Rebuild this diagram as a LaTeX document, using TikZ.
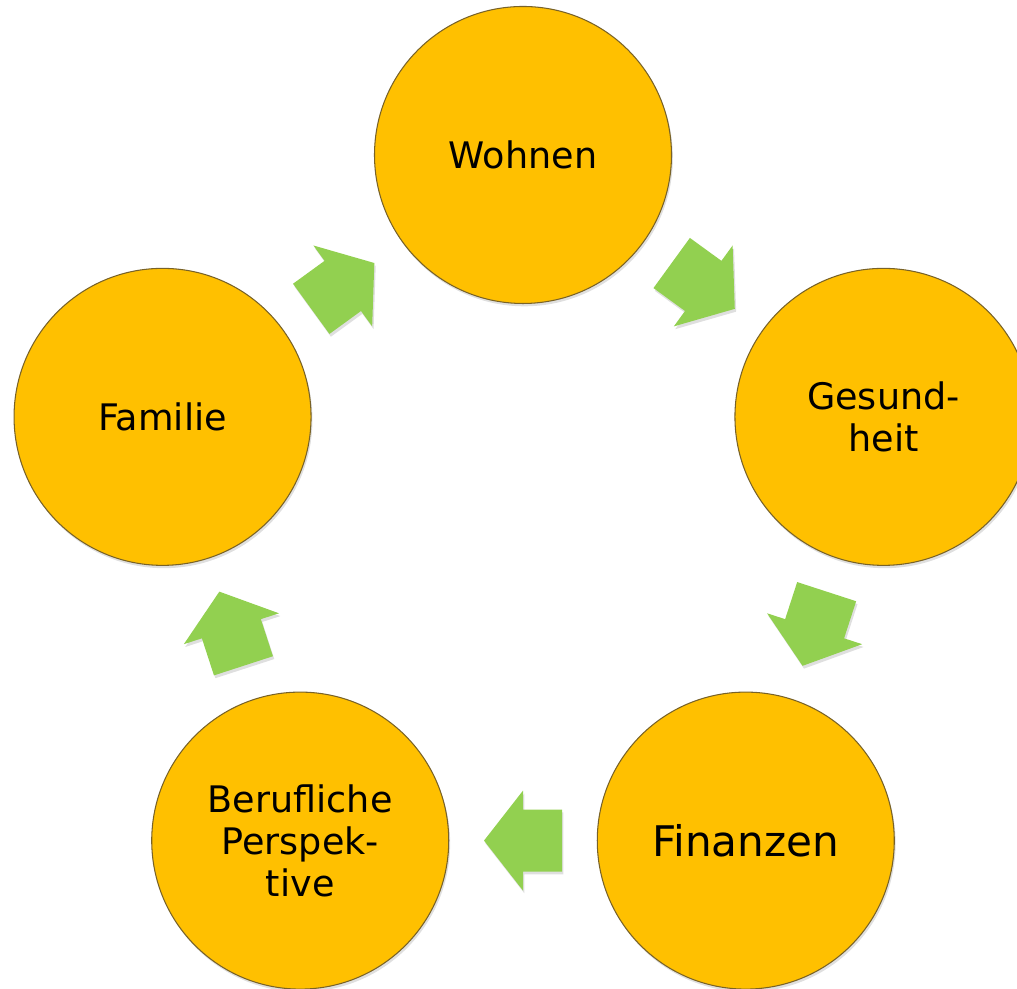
\documentclass[tikz,border=0pt]{standalone}
\usepackage{fontspec}
\setmainfont{DejaVu Sans}
\usetikzlibrary{calc,shadows}
\definecolor{topicgold}{RGB}{255,192,0}
\definecolor{topicedge}{RGB}{120,98,40}
\definecolor{flowgreen}{RGB}{146,208,80}
\tikzset{
  softshadow/.style={drop shadow={shadow xshift=0.8pt, shadow yshift=-1.6pt, opacity=0.25}},
  topic/.style={circle, fill=topicgold, draw=topicedge, line width=0.6pt,
    minimum size=5.94cm, inner sep=0pt, align=center,
    font=\fontsize{20.8}{24}\selectfont, softshadow},
  flow/.style={fill=flowgreen, softshadow}
}
\begin{document}
\begin{tikzpicture}
  \useasboundingbox (0,0) rectangle (20.34,19.78);
  \coordinate (c) at (10.46,9.10);
  % the five topics round the cycle
  \node[topic] (wohnen)  at ([shift={(90:7.58)}]c)   {Wohnen};
  \node[topic] (gesund)  at ([shift={(18:7.58)}]c)   {Gesund-\\heit};
  \node[topic, font=\fontsize{24}{28}\selectfont]
               (finanz)  at ([shift={(-54:7.58)}]c)  {Finanzen};
  \node[topic] (beruf)   at ([shift={(-126:7.58)}]c) {Berufliche\\Perspek-\\tive};
  \node[topic] (familie) at ([shift={(162:7.58)}]c)  {Familie};
  % block arrows halfway between neighbours
  \foreach \a/\b/\ang in
    {wohnen/gesund/-36, gesund/finanz/-108, finanz/beruf/180,
     beruf/familie/108, familie/wohnen/36} {
    \fill[flow, shift={($(\a)!0.5!(\b)$)}, rotate=\ang]
      (-0.78,-0.62) -- (0,-0.62) -- (0,-1) -- (0.78,0) -- (0,1)
      -- (0,0.62) -- (-0.78,0.62) -- cycle;
  }
\end{tikzpicture}
\end{document}
